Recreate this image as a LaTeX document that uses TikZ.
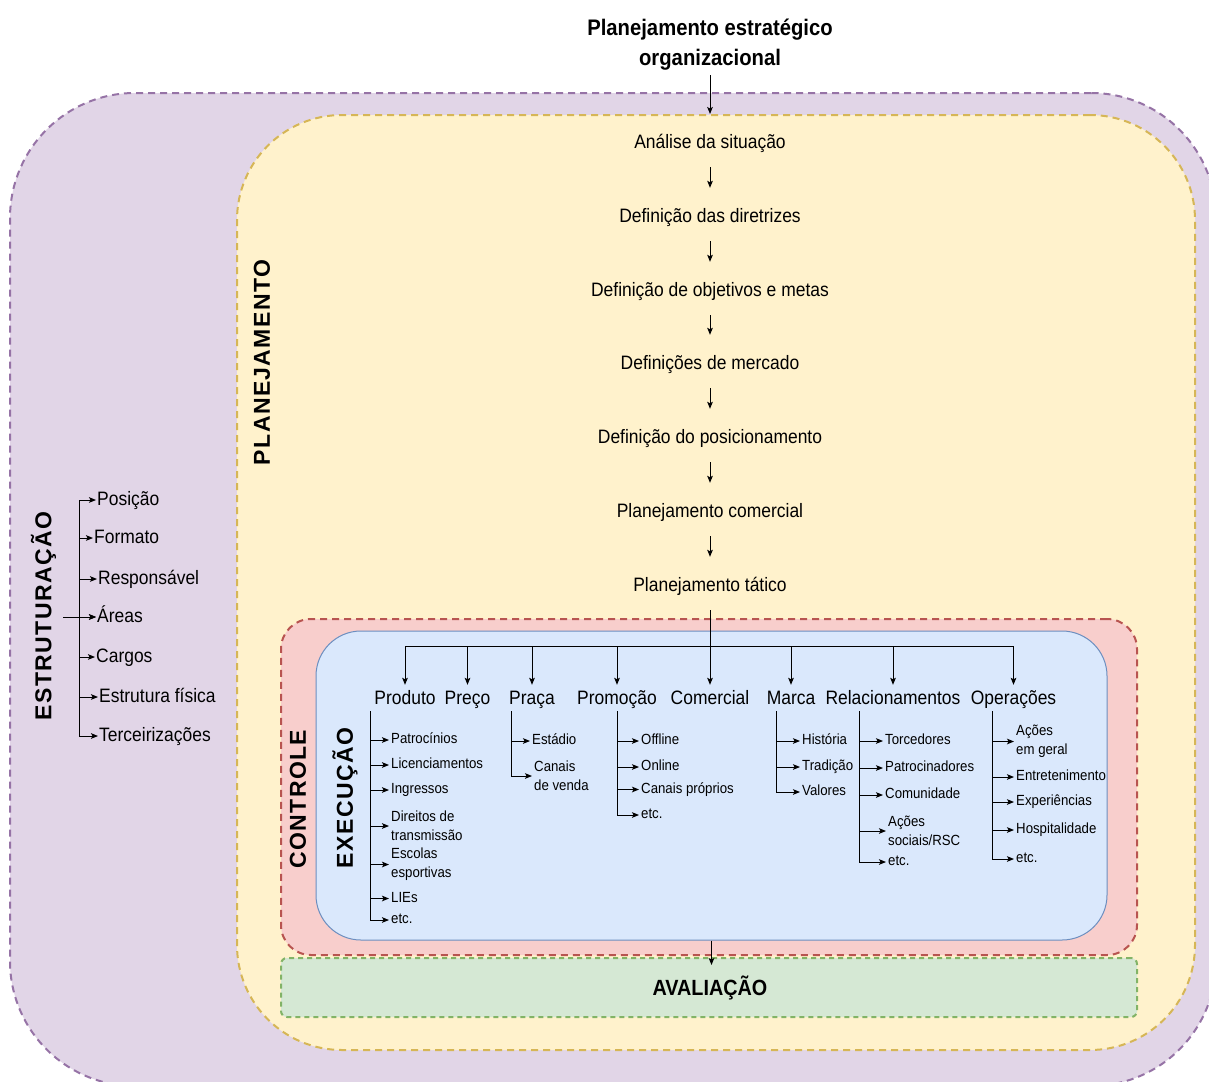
\documentclass[tikz,border=0pt]{standalone}
\usepackage{fontspec}
\setmainfont{Liberation Sans}[FakeStretch=0.9]
\newfontfamily\vfont{Liberation Sans}[LetterSpace=6]
\usetikzlibrary{arrows.meta}
\begin{document}
\begin{tikzpicture}[x=1pt,y=-1pt,
  arr/.style={-{Stealth[length=7pt,width=5.6pt,inset=1.5pt]}, line width=1pt},
  ln/.style={line width=1pt},
  box/.style={inner sep=0pt, line width=2pt, dash pattern=on 7pt off 5pt},
  chain/.style={font=\fontsize{19.4}{22}\selectfont, inner xsep=0pt, inner ysep=15pt, text height=14pt, text depth=4pt, anchor=base},
  cat/.style={font=\fontsize{19.4}{22}\selectfont, inner xsep=0pt, inner ysep=5pt, text height=14pt, text depth=4pt, anchor=base},
  item/.style={font=\fontsize{14.7}{19}\selectfont, inner xsep=2pt, inner ysep=1pt, text height=10.5pt, text depth=3pt, anchor=west},
  itemm/.style={font=\fontsize{14.7}{19}\selectfont, align=left, inner xsep=2pt, inner ysep=1pt, anchor=west},
  eitem/.style={font=\fontsize{19.4}{22}\selectfont, inner xsep=1pt, inner ysep=1pt, text height=14pt, text depth=4pt, anchor=west},
  vlab/.style={font=\vfont\bfseries\fontsize{23}{26}\selectfont, rotate=90, inner sep=0pt}
]
\clip (0,0) rectangle (1209,1081);
\fill[white] (0,0) rectangle (1209,1081);

% nested phase areas
\node[box, draw={rgb,255:red,150;green,115;blue,166}, fill={rgb,255:red,225;green,213;blue,231},
  minimum width=1206pt, minimum height=993pt, rounded corners=125pt] (estrut) at (613,589.5) {};
\node[box, draw={rgb,255:red,214;green,182;blue,86}, fill={rgb,255:red,255;green,242;blue,204},
  minimum width=958pt, minimum height=935pt, rounded corners=105pt] (plan) at (716,582.5) {};
\node[box, draw={rgb,255:red,184;green,84;blue,80}, fill={rgb,255:red,248;green,206;blue,204},
  minimum width=856pt, minimum height=336pt, rounded corners=30pt] (ctrl) at (709,787) {};
\node[inner sep=0pt, line width=1pt, draw={rgb,255:red,108;green,142;blue,191}, fill={rgb,255:red,218;green,232;blue,252},
  minimum width=791pt, minimum height=309pt, rounded corners=45pt] (exec) at (711.5,785.5) {};
\node[box, dash pattern=on 5pt off 4pt, draw={rgb,255:red,130;green,179;blue,102}, fill={rgb,255:red,213;green,232;blue,212},
  minimum width=856pt, minimum height=59pt, rounded corners=6pt] (aval) at (709,987.5) {};

% area titles
\node[font=\bfseries\fontsize{22}{26}\selectfont, inner sep=0pt] (avaltxt) at (710,988) {AVALIAÇÃO};
\node[vlab] (lplan) at (262,362.5) {PLANEJAMENTO};
\node[vlab] (lestr) at (43.5,616) {ESTRUTURAÇÃO};
\node[vlab] (lctrl) at (298,799) {CONTROLE};
\node[vlab] (lexec) at (345,798) {EXECUÇÃO};

% planning chain
\node[font=\bfseries\fontsize{22.5}{30}\selectfont, align=center, inner xsep=0pt, inner ysep=5pt, anchor=south]
  (orig) at (710,75) {Planejamento estratégico\\organizacional};
\node[chain] (c1) at (710,148) {Análise da situação};
\node[chain] (c2) at (710,222) {Definição das diretrizes};
\node[chain] (c3) at (710,296) {Definição de objetivos e metas};
\node[chain] (c4) at (710,369) {Definições de mercado};
\node[chain] (c5) at (710,443) {Definição do posicionamento};
\node[chain] (c6) at (710,517) {Planejamento comercial};
\node[chain] (c7) at (710,591) {Planejamento tático};

\draw[arr] (orig.south) -- (orig.south |- plan.north);
\foreach \a/\b in {c1/c2,c2/c3,c3/c4,c4/c5,c5/c6,c6/c7}
  \draw[arr, shorten >=5pt] (\a.south) -- (\b.north);

% execution categories
\coordinate (br) at (710,646);
\node[cat] (k1) at (405,704) {Produto};
\node[cat] (k2) at (467.5,704) {Preço};
\node[cat] (k3) at (532,704) {Praça};
\node[cat] (k4) at (617,704) {Promoção};
\node[cat] (k5) at (710,704) {Comercial};
\node[cat] (k6) at (791,704) {Marca};
\node[cat] (k7) at (893,704) {Relacionamentos};
\node[cat] (k8) at (1013.5,704) {Operações};
\draw[ln] (c7.south) -- (br);
\foreach \k in {k1,k2,k3,k4,k5,k6,k7,k8}
  \draw[arr] (br) -| (\k.north);

\draw[arr] (exec.south) -- (exec.south |- aval.north) [shorten >=-8pt];

% Produto
\coordinate (t1) at (370,711);
\node[item]  (p1) at (389,740) {Patrocínios};
\node[item]  (p2) at (389,765) {Licenciamentos};
\node[item]  (p3) at (389,790) {Ingressos};
\node[itemm] (p4) at (389,826) {Direitos de\\transmissão};
\node[itemm] (p5) at (389,864.5) {Escolas\\esportivas};
\node[item]  (p6) at (389,898.5) {LIEs};
\node[item]  (p7) at (389,920) {etc.};
\foreach \n in {p1,p2,p3,p4,p5,p6,p7} \draw[arr] (t1) |- (\n.west);

% Praça
\coordinate (t3) at (511,711);
\node[item]  (q1) at (530,741) {Estádio};
\node[itemm] (q2) at (532,776) {Canais\\de venda};
\foreach \n in {q1,q2} \draw[arr] (t3) |- (\n.west);

% Promoção
\coordinate (t4) at (617,711);
\node[item] (r1) at (639,741) {Offline};
\node[item] (r2) at (639,767) {Online};
\node[item] (r3) at (639,789.5) {Canais próprios};
\node[item] (r4) at (639,815) {etc.};
\foreach \n in {r1,r2,r3,r4} \draw[arr] (t4) |- (\n.west);

% Marca
\coordinate (t6) at (776,711);
\node[item] (s1) at (800,741) {História};
\node[item] (s2) at (800,767) {Tradição};
\node[item] (s3) at (800,792) {Valores};
\foreach \n in {s1,s2,s3} \draw[arr] (t6) |- (\n.west);

% Relacionamentos
\coordinate (t7) at (859,711);
\node[item]  (u1) at (883,741) {Torcedores};
\node[item]  (u2) at (883,768) {Patrocinadores};
\node[item]  (u3) at (883,795) {Comunidade};
\node[itemm] (u4) at (886,831) {Ações\\sociais/RSC};
\node[item]  (u5) at (886,862) {etc.};
\foreach \n in {u1,u2,u3,u4,u5} \draw[arr] (t7) |- (\n.west);

% Operações
\coordinate (t8) at (992,711);
\node[itemm] (v1) at (1014,741.5) {Ações\\em geral};
\node[item]  (v2) at (1014,777) {Entretenimento};
\node[item]  (v3) at (1014,802) {Experiências};
\node[item]  (v4) at (1014,830) {Hospitalidade};
\node[item]  (v5) at (1014,859) {etc.};
\foreach \n in {v1,v2,v3,v4,v5} \draw[arr] (t8) |- (\n.west);

% Estruturação
\coordinate (eroot) at (63,617);
\coordinate (et) at (79,500);
\node[eitem] (e1) at (96,500) {Posição};
\node[eitem] (e2) at (93,538) {Formato};
\node[eitem] (e3) at (97,579) {Responsável};
\node[eitem] (e4) at (96,617) {Áreas};
\node[eitem] (e5) at (95,657) {Cargos};
\node[eitem] (e6) at (98,697) {Estrutura física};
\node[eitem] (e7) at (98,736) {Terceirizações};
\foreach \n in {e1,e2,e3,e4,e5,e6,e7} \draw[arr] (et) |- (\n.west);
\draw[arr] (eroot) -- (e4.west);
\end{tikzpicture}
\end{document}
